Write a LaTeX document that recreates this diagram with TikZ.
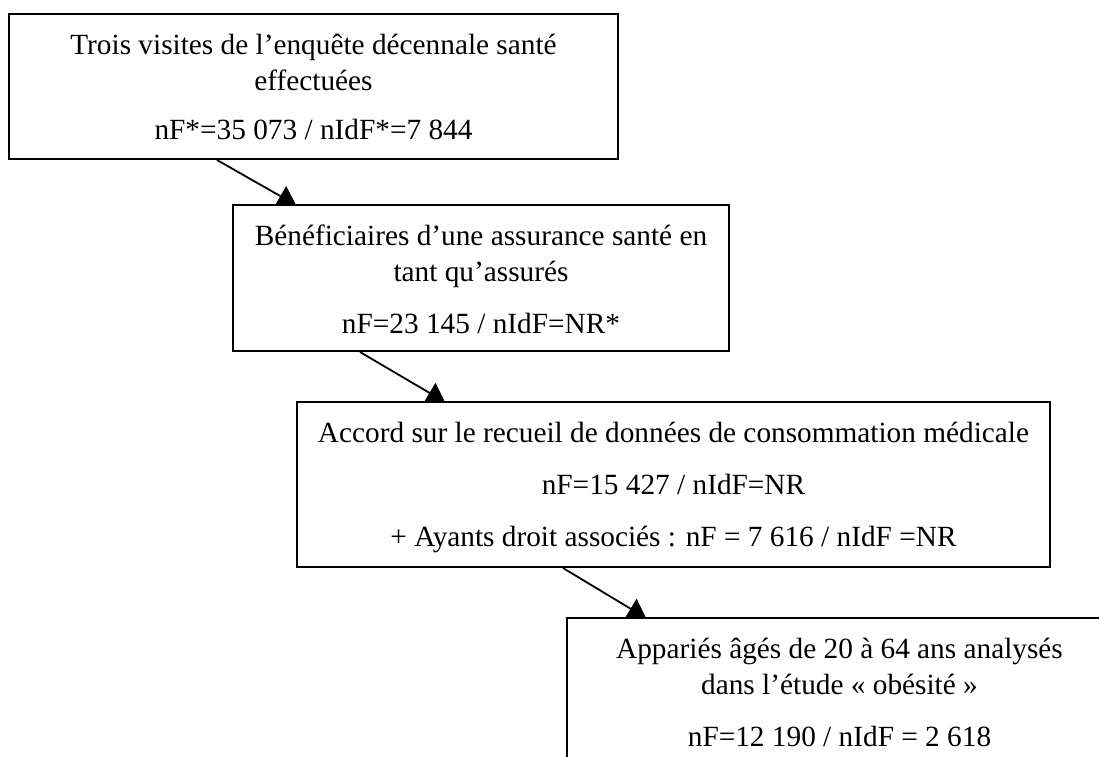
\documentclass[tikz,border=0pt]{standalone}
\usepackage{fontspec}
\setmainfont{Liberation Serif}
\usetikzlibrary{arrows.meta,calc,backgrounds}
\newcommand{\boxtext}[3]{\begin{minipage}[t][#2][t]{#1}\centering\fontsize{29.3}{36.5}\selectfont\rule{0pt}{40pt}#3\end{minipage}}
\begin{document}
\begin{tikzpicture}[x=1pt,y=-1pt,
  box/.style={draw, line width=2pt, fill=white, inner sep=0pt, anchor=north west},
  conn/.style={line width=1.8pt, -{Triangle[width=23pt,length=18pt]}}]
\useasboundingbox (0,0) rectangle (1099,756);
\clip (0,0) rectangle (1099,756);
\node[box] (b1) at (8,13) {\boxtext{609pt}{145pt}{Trois visites de l’enquête décennale santé\\effectuées\\[12.5pt]nF*=35 073 / nIdF*=7 844}};
\node[box] (b2) at (232,204) {\boxtext{496pt}{146pt}{Bénéficiaires d’une assurance santé en\\tant qu’assurés\\[15.5pt]nF=23 145 / nIdF=NR*}};
\node[box] (b3) at (296,401) {\boxtext{753pt}{165pt}{Accord sur le recueil de données de consommation médicale\\[15.5pt]nF=15 427 / nIdF=NR\\[15.5pt]+ Ayants droit associés : nF = 7 616 / nIdF =NR}};
\node[box] (b4) at (566,617) {\boxtext{545pt}{170pt}{Appariés âgés de 20 à 64 ans analysés\\dans l’étude « obésité »\\[15pt]nF=12 190 / nIdF = 2 618}};
\begin{scope}[on background layer]
\draw[conn] ($(b1.south west)+(209,0)$) -- ($(b2.north west)+(64,1)$);
\draw[conn] ($(b2.south west)+(128,0)$) -- ($(b3.north west)+(149,1)$);
\draw[conn] ($(b3.south west)+(267,0)$) -- ($(b4.north west)+(80,1)$);
\end{scope}
\end{tikzpicture}
\end{document}
